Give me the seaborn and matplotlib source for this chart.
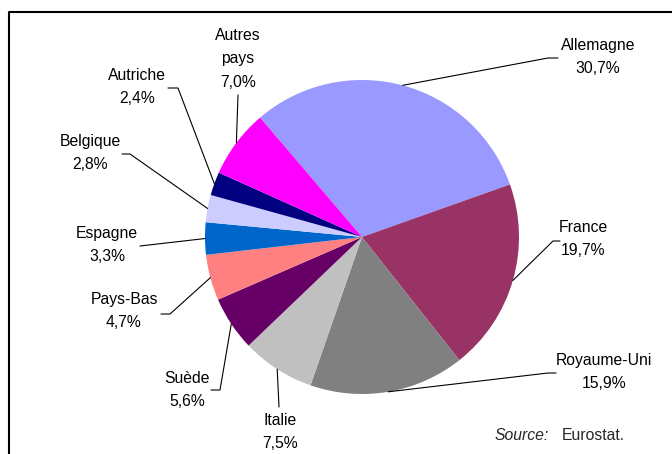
import numpy as np
import matplotlib
matplotlib.use("Agg")
import matplotlib.pyplot as plt
import seaborn as sns

sns.set_theme(style="white")
plt.rcParams['font.family'] = ['Liberation Sans', 'DejaVu Sans']

# Data
countries = ['Allemagne', 'France', 'Royaume-Uni', 'Italie', 'Suède',
             'Pays-Bas', 'Espagne', 'Belgique', 'Autriche', 'Autres\npays']
shares = [30.7, 19.7, 15.9, 7.5, 5.6, 4.7, 3.3, 2.8, 2.4, 7.0]
colors = ['#9999FF', '#993366', '#808080', '#C0C0C0', '#660066',
          '#FF8080', '#0066CC', '#CCCCFF', '#000080', '#FF00FF']

# label layout in pixel coords: text centre, knee of leader line, end of leader line
text_pos = [(598, 57), (583, 239), (604, 372), (280, 432), (187, 390),
            (124, 311), (107, 245), (90, 153), (137, 87), (238, 59)]
knee_pos = [(548, 58), (553, 241), (548, 373), (279, 407), (220, 390),
            (170, 314), (140, 246), (130, 154), (178, 88), (238, 95)]
end_x = [558, 560, 556, 279, 211, 161, 140, 122, 168, 238]

W, H = 672, 454
cx, cy, r = 362, 237, 157


def px(x, y):
    return x, H - y


fig = plt.figure(figsize=(W / 100, H / 100), dpi=100)
ax = fig.add_axes([0, 0, 1, 1])

wedges, _ = ax.pie(shares, colors=colors, startangle=130.5, counterclock=False,
                   center=px(cx, cy), radius=r,
                   wedgeprops=dict(linewidth=0))

ax.set_xlim(0, W)
ax.set_ylim(0, H)
ax.set_aspect('equal')
ax.axis('off')

for w, name, val, tp, kp, ex in zip(wedges, countries, shares, text_pos, knee_pos, end_x):
    mid = np.deg2rad((w.theta1 + w.theta2) / 2)
    sx = cx + r * np.cos(mid)
    sy = cy - r * np.sin(mid)
    xs = [sx, kp[0], ex]
    ys = [H - sy, H - kp[1], H - kp[1]]
    ax.plot(xs, ys, color='black', lw=0.8)
    label = f"{name}\n{val:.1f}%".replace('.', ',')
    ax.text(*px(*tp), label, ha='center', va='center', fontsize=11.3,
            linespacing=1.72, color='black')

# source note
ax.text(*px(549, 436), 'Source:', style='italic', ha='right', va='center', fontsize=11.3)
ax.text(*px(562, 436), 'Eurostat.', ha='left', va='center', fontsize=11.3)

# chart frame (only top and left edges visible)
ax.plot([9, 9, W + 5], [-5, H - 12, H - 12], color='black', lw=1.5, clip_on=False)

fig.savefig('out.png', dpi=100)
